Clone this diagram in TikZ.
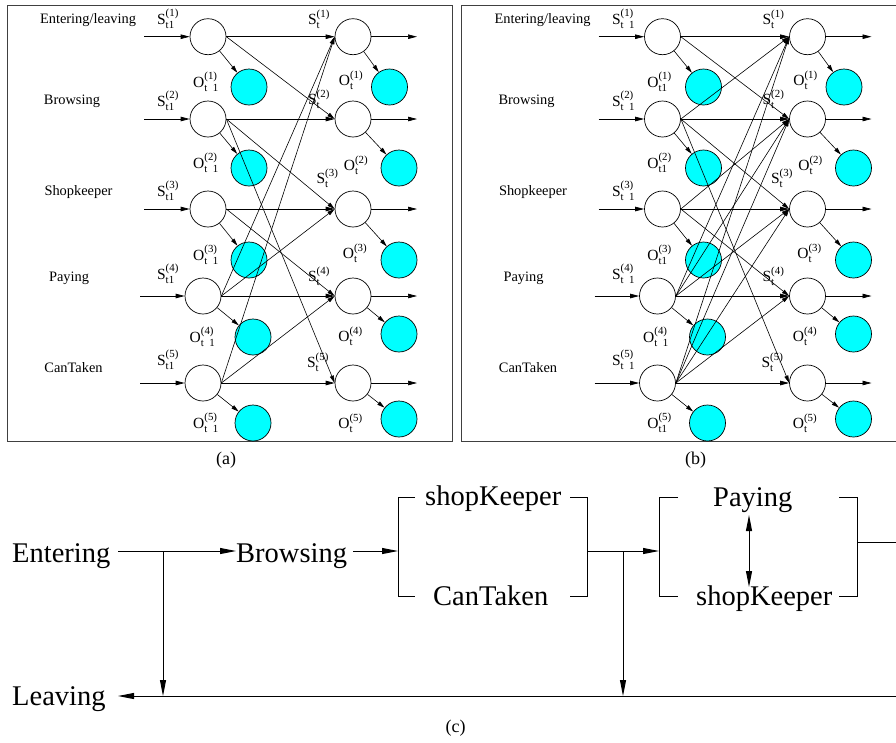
\documentclass[tikz,border=0pt]{standalone}
\usepackage{amsmath}
\usepackage{fontspec}
\setmainfont{Liberation Serif}
\usetikzlibrary{arrows.meta}
\definecolor{obcyan}{RGB}{0,255,255}
\tikzset{
 st/.style={circle,draw,fill=white,minimum size=36pt,inner sep=0pt,line width=0.7pt},
 ob/.style={circle,draw,fill=obcyan,minimum size=36pt,inner sep=0pt,line width=0.7pt},
 harr/.style={line width=0.7pt,-{Triangle[length=9pt,width=4.5pt]}},
 xarr/.style={line width=0.6pt,-{Triangle[length=7.5pt,width=4pt]}},
 lab/.style={inner sep=0pt,font=\fontsize{14.4pt}{17pt}\selectfont},
 sym/.style={inner sep=0pt,font=\fontsize{15.5pt}{18pt}\selectfont},
 capt/.style={inner sep=0pt,font=\fontsize{18pt}{21pt}\selectfont},
 big/.style={inner sep=0pt,anchor=base west,font=\fontsize{28.5pt}{34pt}\selectfont},
 cln/.style={line width=0.9pt},
 carr/.style={line width=0.9pt,-{Triangle[length=16pt,width=6pt]}},
 dcarr/.style={line width=0.9pt,{Triangle[length=16pt,width=6pt]}-{Triangle[length=16pt,width=6pt]}},
 panelbox/.style={draw=black!75,line width=1pt}
}
\newcommand{\statepanel}[2]{%
\begin{scope}[xshift=#2]
 \foreach \i/\xo/\yo in {1/249/87,2/249/168,3/249/260,4/253/337,5/253/423}{
   \node[ob] (#1LO\i) at (\xo,\yo) {};}
 \foreach \i/\xo/\yo in {1/389.5/87,2/399/168,3/399/260,4/399/334,5/399/419}{
   \node[ob] (#1RO\i) at (\xo,\yo) {};}
 \foreach \i/\xl/\yo/\xi in {1/208/36.7/144,2/208/119/144,3/208/209/144,4/203/296/140,5/203/383/140}{
   \node[st] (#1L\i) at (\xl,\yo) {};
   \node[st] (#1R\i) at (353,\yo) {};
   \coordinate (#1I\i) at (\xi,\yo);
   \coordinate (#1E\i) at (417,\yo);}
 \node[lab] (#1N1) at (88,20) {Entering/leaving};
 \node[lab] (#1N2) at (72,101) {Browsing};
 \node[lab] (#1N3) at (78.5,192) {Shopkeeper};
 \node[lab] (#1N4) at (69,278) {Paying};
 \node[lab] (#1N5) at (73.5,368) {CanTaken};
 \node[sym] (#1RS1) at (319,19) {$\text{S}^{\text{(1)}}_{\text{t}}$};
 \node[sym] (#1RS2) at (319,99) {$\text{S}^{\text{(2)}}_{\text{t}}$};
 \node[sym] (#1RS3) at (327.5,178) {$\text{S}^{\text{(3)}}_{\text{t}}$};
 \node[sym] (#1RS4) at (319,276) {$\text{S}^{\text{(4)}}_{\text{t}}$};
 \node[sym] (#1RS5) at (318,362) {$\text{S}^{\text{(5)}}_{\text{t}}$};
 \node[sym] (#1RT1) at (351,80) {$\text{O}^{\text{(1)}}_{\text{t}}$};
 \node[sym] (#1RT2) at (356,165) {$\text{O}^{\text{(2)}}_{\text{t}}$};
 \node[sym] (#1RT3) at (355,253) {$\text{O}^{\text{(3)}}_{\text{t}}$};
 \node[sym] (#1RT4) at (350.5,336) {$\text{O}^{\text{(4)}}_{\text{t}}$};
 \node[sym] (#1RT5) at (350.5,423) {$\text{O}^{\text{(5)}}_{\text{t}}$};
\end{scope}}
\newcommand{\rowedges}[1]{%
 \foreach \i in {1,...,5}{
   \draw[harr] (#1I\i) -- (#1L\i.west);
   \draw[harr] (#1L\i.east) -- (#1R\i.west);
   \draw[harr] (#1R\i.east) -- (#1E\i);
   \draw[xarr] (#1L\i) -- (#1LO\i);
   \draw[xarr] (#1R\i) -- (#1RO\i);}}
\begin{document}
\begin{tikzpicture}[x=1pt,y=-1pt]
\useasboundingbox (0,0) rectangle (896,742);
% panel boxes
\draw[panelbox] (7,5) rectangle (452.7,441.7);
\draw[panelbox] (461,5) rectangle (910,441.7);
% panel (a)
\statepanel{a}{0pt}
\node[sym] (aSL1) at (168,19) {$\text{S}^{\text{(1)}}_{\text{t1}}$};
\node[sym] (aSL2) at (168,101) {$\text{S}^{\text{(2)}}_{\text{t1}}$};
\node[sym] (aSL3) at (168,191) {$\text{S}^{\text{(3)}}_{\text{t1}}$};
\node[sym] (aSL4) at (168,274) {$\text{S}^{\text{(4)}}_{\text{t1}}$};
\node[sym] (aSL5) at (168,360) {$\text{S}^{\text{(5)}}_{\text{t1}}$};
\node[sym] (aOL1) at (206,82) {$\text{O}^{\text{(1)}}_{\text{t\enspace1}}$};
\node[sym] (aOL2) at (206,163) {$\text{O}^{\text{(2)}}_{\text{t\enspace1}}$};
\node[sym] (aOL3) at (206,255) {$\text{O}^{\text{(3)}}_{\text{t\enspace1}}$};
\node[sym] (aOL4) at (202.5,337) {$\text{O}^{\text{(4)}}_{\text{t\enspace1}}$};
\node[sym] (aOL5) at (206,423) {$\text{O}^{\text{(5)}}_{\text{t\enspace1}}$};
\rowedges{a}
\foreach \s/\t in {1/2,2/3,2/5,3/4,4/1,4/3,5/1,5/4}{
  \draw[xarr] (aL\s.east) -- (aR\t.west);}
\node[capt] (capa) at (226,460) {(a)};
% panel (b)
\statepanel{b}{454.5pt}
\begin{scope}[xshift=454.5pt]
\node[sym] (bSL1) at (169,19) {$\text{S}^{\text{(1)}}_{\text{t\enspace1}}$};
\node[sym] (bSL2) at (169,101) {$\text{S}^{\text{(2)}}_{\text{t\enspace1}}$};
\node[sym] (bSL3) at (169,191) {$\text{S}^{\text{(3)}}_{\text{t\enspace1}}$};
\node[sym] (bSL4) at (169,274) {$\text{S}^{\text{(4)}}_{\text{t\enspace1}}$};
\node[sym] (bSL5) at (169,360) {$\text{S}^{\text{(5)}}_{\text{t\enspace1}}$};
\node[sym] (bOL1) at (205,82) {$\text{O}^{\text{(1)}}_{\text{t1}}$};
\node[sym] (bOL2) at (205,163) {$\text{O}^{\text{(2)}}_{\text{t1}}$};
\node[sym] (bOL3) at (205,255) {$\text{O}^{\text{(3)}}_{\text{t1}}$};
\node[sym] (bOL4) at (201.5,337) {$\text{O}^{\text{(4)}}_{\text{t\enspace1}}$};
\node[sym] (bOL5) at (205,423) {$\text{O}^{\text{(5)}}_{\text{t1}}$};
\node[capt] (capb) at (241,460) {(b)};
\end{scope}
\rowedges{b}
\foreach \s/\t in {1/2,2/1,2/3,2/5,3/2,3/4,4/1,4/2,4/3,5/1,5/2,5/3,5/4}{
  \draw[xarr] (bL\s.east) -- (bR\t.west);}
% panel (c)
\node[big] (cEnt) at (12,562) {Entering};
\node[big] (cLea) at (12,705) {Leaving};
\node[big] (cBro) at (236,562) {Browsing};
\node[big] (cSKa) at (425,505) {shopKeeper};
\node[big] (cCT) at (433,605) {CanTaken};
\node[big] (cPay) at (713,506) {Paying};
\node[big] (cSKb) at (696,605) {shopKeeper};
\coordinate (e0) at (118,551);
\coordinate (j1) at (163,551);
\coordinate (j1b) at (163,696);
\coordinate (lr) at (910,696);
\coordinate (le) at (118,696);
\coordinate (b0) at (353,551);
\coordinate (k1m) at (398,551);
\coordinate (k1t) at (398,497.7);
\coordinate (k1b) at (398,596);
\coordinate (k1tr) at (415,497.7);
\coordinate (k1br) at (415,596);
\coordinate (k2t) at (587.5,497.7);
\coordinate (k2b) at (587.5,596);
\coordinate (k2tl) at (570,497.7);
\coordinate (k2bl) at (570,596);
\coordinate (k2m) at (587.5,551);
\coordinate (j2) at (623,551);
\coordinate (j2b) at (623,696);
\coordinate (k3m) at (659,551);
\coordinate (k3t) at (659,497.7);
\coordinate (k3b) at (659,596);
\coordinate (k3tr) at (678,497.7);
\coordinate (k3br) at (678,596);
\coordinate (k4t) at (857.5,497.7);
\coordinate (k4b) at (857.5,596);
\coordinate (k4tl) at (839,497.7);
\coordinate (k4bl) at (839,596);
\coordinate (k4m) at (857.5,542.3);
\coordinate (k4e) at (910,542.3);
\coordinate (pu) at (749,515);
\coordinate (pd) at (749,587);
\draw[carr] (e0) -- (e0 -| cBro.west);
\draw[carr] (j1) -- (j1b);
\draw[carr] (lr) -- (le);
\draw[carr] (b0) -- (k1m);
\draw[cln] (k1tr) -- (k1t) -- (k1b) -- (k1br);
\draw[cln] (k2tl) -- (k2t) -- (k2b) -- (k2bl);
\draw[carr] (k2m) -- (k3m);
\draw[carr] (j2) -- (j2b);
\draw[cln] (k3tr) -- (k3t) -- (k3b) -- (k3br);
\draw[cln] (k4tl) -- (k4t) -- (k4b) -- (k4bl);
\draw[cln] (k4m) -- (k4e);
\draw[dcarr] (pu) -- (pd);
\node[capt] (capc) at (455.5,728) {(c)};
\end{tikzpicture}
\end{document}
